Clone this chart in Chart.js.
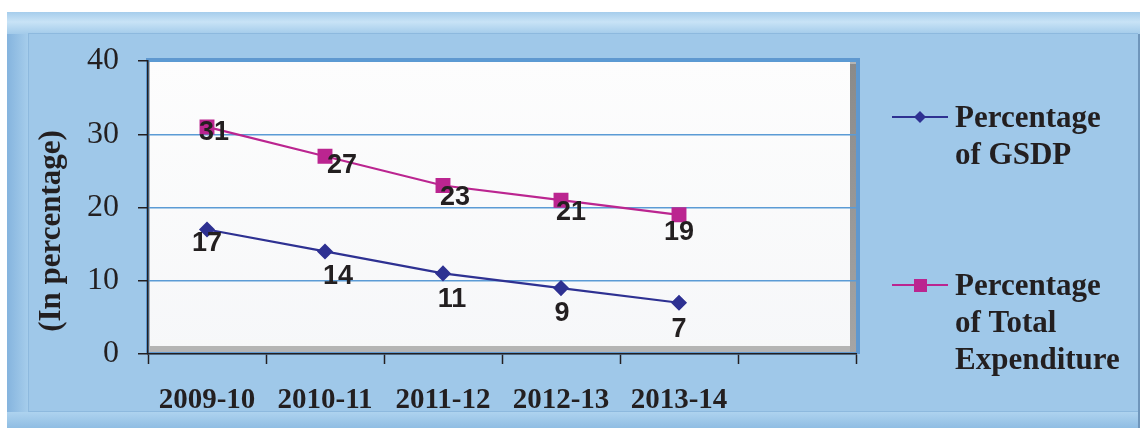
<!DOCTYPE html>
<html>
<head>
<meta charset="utf-8">
<script src="https://cdn.jsdelivr.net/npm/chart.js@4"></script>
<style>
  html, body { margin: 0; padding: 0; background: #fff; }
  #wrap { width: 1145px; height: 428px; }
</style>
</head>
<body>
<div id="wrap"><canvas id="myChart" width="1145" height="428"></canvas></div>
<script>
// data
const years = ['2009-10', '2010-11', '2011-12', '2012-13', '2013-14'];
const gsdp = [17, 14, 11, 9, 7];
const totalExp = [31, 27, 23, 21, 19];
const yTicks = [0, 10, 20, 30, 40];

const ink = '#231f20';
const navy = '#2e3192';
const plum = '#bb2590';
const serif = '"Liberation Serif", "Times New Roman", serif';

// frame + plot box behind everything
const framePlugin = {
  id: 'frame',
  beforeDraw(chart) {
    const c = chart.ctx;
    const a = chart.chartArea;
    c.save();
    c.fillStyle = '#ffffff';
    c.fillRect(0, 0, chart.width, chart.height);
    // outer blue frame
    c.fillStyle = '#9fc8e9';
    c.fillRect(7, 12, 1133, 416);
    let g = c.createLinearGradient(7, 0, 29, 0);
    g.addColorStop(0, '#85b4de');
    g.addColorStop(1, '#a7ceec');
    c.fillStyle = g;
    c.fillRect(7, 12, 22, 416);
    g = c.createLinearGradient(0, 12, 0, 34);
    g.addColorStop(0, '#a6cdec');
    g.addColorStop(0.45, '#c8e3f6');
    g.addColorStop(1, '#a3cbea');
    c.fillStyle = g;
    c.fillRect(7, 12, 1133, 22);
    g = c.createLinearGradient(0, 412, 0, 428);
    g.addColorStop(0, '#aed3ef');
    g.addColorStop(1, '#8fbde3');
    c.fillStyle = g;
    c.fillRect(7, 412, 1133, 16);
    c.fillStyle = '#8db9de';
    c.fillRect(28, 33, 1110, 1);
    c.fillRect(28, 33, 1, 379);
    c.fillRect(28, 411, 1110, 1);
    c.fillStyle = '#6f96bb';
    c.fillRect(1138, 34, 2, 394);
    // plot box
    c.fillStyle = '#5f98cf';
    c.fillRect(a.left - 2, a.top - 3, a.right - a.left + 6, a.bottom - a.top + 3);
    c.fillStyle = '#b4b4b4';
    c.fillRect(a.left + 1, a.top + 1, a.right - a.left - 1, a.bottom - a.top - 3);
    g = c.createLinearGradient(0, a.top, 0, a.bottom);
    g.addColorStop(0, '#8a8a8a');
    g.addColorStop(1, '#a5a5a5');
    c.fillStyle = g;
    c.fillRect(a.right - 6, a.top + 3, 6, a.bottom - a.top - 5);
    g = c.createLinearGradient(0, a.top, 0, a.bottom);
    g.addColorStop(0, '#fdfdfd');
    g.addColorStop(1, '#f6f7f9');
    c.fillStyle = g;
    c.fillRect(a.left + 2, a.top + 1, a.right - a.left - 8, a.bottom - a.top - 9);
    c.restore();
  }
};

// value labels next to points
const labelPlugin = {
  id: 'vals',
  afterDatasetsDraw(chart, args, opts) {
    const c = chart.ctx;
    c.save();
    c.font = 'bold 27px "Liberation Sans", Arial, sans-serif';
    c.fillStyle = ink;
    c.textAlign = 'center';
    c.textBaseline = 'middle';
    chart.data.datasets.forEach((ds, i) => {
      const off = opts.offsets[i];
      chart.getDatasetMeta(i).data.forEach((pt, j) => {
        const o = off[j] || off[0];
        c.fillText(String(ds.data[j]), pt.x + o[0], pt.y + o[1]);
      });
    });
    c.restore();
  }
};

// legend on the right (wrapped text) and the y title
const legendPlugin = {
  id: 'sideLegend',
  afterDraw(chart, args, opts) {
    const c = chart.ctx;
    c.save();
    opts.items.forEach((it, i) => {
      const ds = chart.data.datasets[i];
      c.strokeStyle = ds.borderColor;
      c.lineWidth = 2;
      c.beginPath();
      c.moveTo(892, it.y);
      c.lineTo(948, it.y);
      c.stroke();
      c.fillStyle = ds.backgroundColor;
      if (ds.pointStyle === 'rect') {
        c.fillRect(914, it.y - 6, 13, 13);
      } else {
        c.beginPath();
        c.moveTo(920, it.y - 6);
        c.lineTo(926, it.y);
        c.lineTo(920, it.y + 6);
        c.lineTo(914, it.y);
        c.closePath();
        c.fill();
      }
      c.fillStyle = ink;
      c.font = 'bold 31px ' + serif;
      c.textBaseline = 'middle';
      c.textAlign = 'left';
      it.lines.forEach((t, k) => c.fillText(t, 955, it.y + 2 + k * 37));
    });
    // y axis title, sits a bit below the middle
    c.translate(52, 231);
    c.rotate(-Math.PI / 2);
    c.font = 'bold 31px ' + serif;
    c.textAlign = 'center';
    c.textBaseline = 'middle';
    c.fillStyle = ink;
    c.fillText(opts.yTitle, 0, 0);
    c.restore();
  }
};

const data = {
  labels: years.concat(['']),
  datasets: [{
    label: 'Percentage of GSDP',
    data: gsdp,
    borderColor: navy,
    backgroundColor: navy,
    borderWidth: 2.2,
    pointStyle: 'rectRot',
    pointRadius: 6.5,
    pointHoverRadius: 6.5,
    tension: 0
  }, {
    label: 'Percentage of Total Expenditure',
    data: totalExp,
    borderColor: plum,
    backgroundColor: plum,
    borderWidth: 2.2,
    pointStyle: 'rect',
    pointRadius: 9,
    pointHoverRadius: 9,
    tension: 0
  }]
};

const config = {
  type: 'line',
  data: data,
  plugins: [framePlugin, labelPlugin, legendPlugin],
  options: {
    responsive: false,
    animation: false,
    layout: { padding: { left: 35, right: 289, top: 61, bottom: 0 } },
    plugins: {
      legend: { display: false },
      tooltip: { enabled: false },
      vals: {
        offsets: [
          [[0, 14], [13, 25], [9, 26], [1, 25], [0, 27]],
          [[7, 6], [17, 9], [12, 12], [10, 12], [0, 18]]
        ]
      },
      sideLegend: {
        yTitle: '(In percentage)',
        items: [
          { y: 117, lines: ['Percentage', 'of GSDP'] },
          { y: 285, lines: ['Percentage', 'of Total', 'Expenditure'] }
        ]
      }
    },
    scales: {
      x: {
        offset: true,
        grid: {
          offset: true,
          drawOnChartArea: false,
          tickLength: 10,
          tickColor: ink,
          tickWidth: 1.5
        },
        border: { color: ink, width: 1.5 },
        ticks: {
          color: ink,
          padding: 19,
          maxRotation: 0,
          autoSkip: false,
          font: { family: serif, size: 29, weight: 'bold' }
        },
        afterFit(s) { s.height = 74; }
      },
      y: {
        min: yTicks[0],
        max: yTicks[yTicks.length - 1],
        afterBuildTicks(s) { s.ticks = yTicks.map(v => ({ value: v })); },
        grid: {
          color: '#5b9bd5',
          lineWidth: 1.5,
          tickLength: 10,
          tickColor: ink,
          tickWidth: 1.5
        },
        border: { color: ink, width: 1.5 },
        ticks: {
          color: ink,
          padding: 19,
          font: { family: serif, size: 32 }
        },
        afterFit(s) { s.width = 113; }
      }
    }
  }
};

const myChart = new Chart(document.getElementById('myChart').getContext('2d'), config);
</script>
</body>
</html>
